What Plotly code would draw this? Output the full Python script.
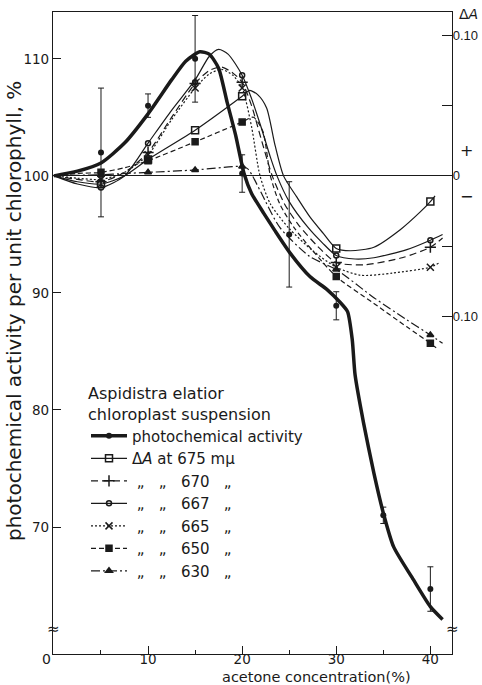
import plotly.graph_objects as go

# ---------------- data ----------------
# photochemical activity (% of control), measured points with error bars
act_conc = [5, 10, 15, 20, 25, 30, 35, 40]
act_val = [102.0, 106.0, 110.0, 100.2, 95.0, 88.9, 71.0, 64.7]
act_err = [5.5, 1.0, 3.7, 1.6, 4.5, 1.2, 0.7, 1.9]

# fitted (hand-drawn) curve of photochemical activity
act_curve_x = [0, 2.5, 5, 7.5, 10, 12.5, 14, 15.5, 16.5, 17.5, 18.4, 19.3, 20.2, 21.0, 22.3, 23.5,
               25.1, 27.2, 29.0, 30.4, 31.2, 31.7, 32.0, 32.9, 34.0, 35.0, 36.1, 38.2, 40.0, 41.3]
act_curve_y = [100, 100.4, 101.1, 102.8, 105.3, 108.2, 109.8, 110.6, 110.4, 109.2, 106.3, 103.5, 100.2, 98.5,
               96.8, 95.3, 93.4, 91.4, 90.3, 89.2, 88.4, 86.0, 83.0, 78.9, 74.6, 71.2, 68.3, 65.5, 63.2, 62.1]

# delta A measured points (same concentrations for every wavelength)
dA_conc = [5, 10, 15, 20, 30, 40]
dA_675 = [-0.0058, 0.0117, 0.0325, 0.0567, -0.0517, -0.0183]
dA_670 = [-0.0042, 0.0167, 0.0658, 0.0667, -0.0617, -0.0508]
dA_667 = [-0.0083, 0.0233, 0.0667, 0.0717, -0.0567, -0.0458]
dA_665 = [-0.0025, 0.0150, 0.0625, 0.0625, -0.0650, -0.0650]
dA_650 = [0.0025, 0.0108, 0.0242, 0.0383, -0.0717, -0.1192]
dA_630 = [0.0008, 0.0025, 0.0042, 0.0067, -0.0667, -0.1133]

# delta A fitted curves
c675_x = [0, 2.5, 5, 7.5, 10, 15, 20, 20.8, 21.7, 22.6, 23.5, 24.4, 25.8, 27.2, 28.6, 30, 31.5, 34, 36.8, 38.9, 40, 40.5]
c675_y = [0, -0.0042, -0.0058, 0, 0.0117, 0.0325, 0.0567, 0.0608, 0.0575, 0.0483, 0.0217, 0, -0.0150, -0.0292,
          -0.0408, -0.0517, -0.0533, -0.0508, -0.0383, -0.0258, -0.0183, -0.0142]
c670_x = [0, 2.5, 5, 7.5, 10, 12.5, 15, 16.5, 17.8, 19, 20, 21, 22, 23.2, 24.5, 26, 28, 30, 33, 37, 40, 41.3]
c670_y = [0, -0.0025, -0.0042, 0.0025, 0.0167, 0.0417, 0.0658, 0.0750, 0.0775, 0.0733, 0.0667, 0.0500, 0.0267, 0,
          -0.0200, -0.0350, -0.0500, -0.0617, -0.0633, -0.0583, -0.0508, -0.0442]
c667_x = [0, 2.5, 5, 7.5, 10, 12.5, 15, 16.5, 17.5, 18.5, 20, 21, 22, 23, 23.7, 25, 27, 28.5, 30, 32, 34, 37.5, 40, 41.3]
c667_y = [0, -0.0058, -0.0083, 0, 0.0233, 0.0467, 0.0683, 0.0850, 0.0900, 0.0867, 0.0717, 0.0550, 0.0350, 0.0133, 0,
          -0.0183, -0.0367, -0.0475, -0.0567, -0.0592, -0.0583, -0.0525, -0.0458, -0.0417]
c665_x = [0, 2.5, 5, 7.5, 10, 12.5, 15, 16.5, 17.8, 19, 20, 21, 21.9, 23, 25, 27.5, 30, 32.6, 36, 40, 41]
c665_y = [0, -0.0017, -0.0025, 0.0025, 0.0150, 0.0400, 0.0625, 0.0725, 0.0758, 0.0717, 0.0625, 0.0350, 0, -0.0200,
          -0.0375, -0.0533, -0.0650, -0.0708, -0.0692, -0.0650, -0.0617]
c650_x = [0, 2.5, 5, 7.5, 10, 15, 20, 21.2, 22.2, 23.0, 24, 25.5, 27.5, 30, 34, 37.5, 40, 40.8]
c650_y = [0, 0.0017, 0.0025, 0.0058, 0.0108, 0.0242, 0.0383, 0.0417, 0.0317, 0, -0.0200, -0.0367, -0.0533, -0.0717,
          -0.0908, -0.1075, -0.1192, -0.1233]
c630_x = [0, 2.5, 5, 7.5, 10, 15, 20, 20.6, 21.1, 22, 24, 27.2, 30, 34, 37.5, 40, 41.3]
c630_y = [0, 0.0004, 0.0008, 0.0017, 0.0025, 0.0042, 0.0067, 0.0050, 0, -0.0117, -0.0367, -0.0575, -0.0667, -0.0867,
          -0.1025, -0.1133, -0.1192]

y_left_ticks = [70, 80, 90, 100, 110]
y_right_ticks = [0.10, 0.05, 0, -0.05, -0.10]
y_right_text = ["0.10", "", "0", "", "0.10"]
x_ticks = [10, 20, 30, 40]
x_minor = [5, 15, 25, 35]

legend_names = [
    "photochemical activity",
    "Δ<i>A</i> at 675 mμ",
    "\u00a0„\u00a0\u00a0\u00a0„\u00a0\u00a0\u00a0670\u00a0\u00a0\u00a0„",
    "\u00a0„\u00a0\u00a0\u00a0„\u00a0\u00a0\u00a0667\u00a0\u00a0\u00a0„",
    "\u00a0„\u00a0\u00a0\u00a0„\u00a0\u00a0\u00a0665\u00a0\u00a0\u00a0„",
    "\u00a0„\u00a0\u00a0\u00a0„\u00a0\u00a0\u00a0650\u00a0\u00a0\u00a0„",
    "\u00a0„\u00a0\u00a0\u00a0„\u00a0\u00a0\u00a0630\u00a0\u00a0\u00a0„",
]

# ---------------- figure ----------------
INK = "#1a1a1a"
FONT = "DejaVu Sans"
Y_LO, Y_HI = 59.15, 114.0

fig = go.Figure()

# delta A series: (curve x, curve y, points y, dash, marker symbol, marker size, line width)
series = [
    (c675_x, c675_y, dA_675, "solid", "square-open", 7, 1.2),
    (c670_x, c670_y, dA_670, "7px,4px", "cross-thin", 8, 1.2),
    (c667_x, c667_y, dA_667, "solid", "circle-open", 5, 1.2),
    (c665_x, c665_y, dA_665, "2px,2px", "x-thin", 7, 1.2),
    (c650_x, c650_y, dA_650, "5px,3px", "square", 6, 1.2),
    (c630_x, c630_y, dA_630, "9px,3px,2px,3px", "triangle-up", 6, 1.2),
]

for (cx, cy, py, dash, sym, msz, lw) in series:
    fig.add_trace(go.Scatter(x=cx, y=cy, yaxis="y2", mode="lines", showlegend=False,
                             line=dict(color=INK, width=lw, dash=dash, shape="spline", smoothing=0.7),
                             hoverinfo="skip"))
    fig.add_trace(go.Scatter(x=dA_conc, y=py, yaxis="y2", mode="markers", showlegend=False,
                             marker=dict(symbol=sym, size=msz, color=INK,
                                         line=dict(color=INK, width=1.5))))

# photochemical activity curve and points
fig.add_trace(go.Scatter(x=act_curve_x, y=act_curve_y, mode="lines", showlegend=False,
                         line=dict(color=INK, width=3.5, shape="spline", smoothing=0.6), hoverinfo="skip"))
fig.add_trace(go.Scatter(x=act_conc, y=act_val, mode="markers", showlegend=False,
                         marker=dict(symbol="circle", size=6, color=INK),
                         error_y=dict(type="data", array=act_err, visible=True, color=INK,
                                      thickness=1, width=3)))

# legend entries
fig.add_trace(go.Scatter(x=[None], y=[None], mode="lines+markers", name=legend_names[0],
                         line=dict(color=INK, width=3.5), marker=dict(symbol="circle", size=6, color=INK)))
for name, (cx, cy, py, dash, sym, msz, lw) in zip(legend_names[1:], series):
    fig.add_trace(go.Scatter(x=[None], y=[None], yaxis="y2", mode="lines+markers", name=name,
                             line=dict(color=INK, width=lw, dash=dash),
                             marker=dict(symbol=sym, size=msz, color=INK, line=dict(color=INK, width=1.5))))

L, R, T, B = 53, 30, 12, 31
W, H = 482, 685
pw, ph = W - L - R, H - T - B


def px(x):
    return (x - L) / pw


def py_(y):
    return (H - B - y) / ph


fig.update_layout(
    template="none",
    width=W, height=H,
    margin=dict(l=L, r=R, t=T, b=B, pad=0, autoexpand=False),
    paper_bgcolor="white", plot_bgcolor="white",
    font=dict(family=FONT, color=INK, size=14),
    showlegend=True,
    legend=dict(
        x=px(86), y=py_(378), xanchor="left", yanchor="top",
        bgcolor="rgba(0,0,0,0)", borderwidth=0,
        font=dict(family=FONT, size=15, color=INK),
        title=dict(text="Aspidistra elatior<br>chloroplast suspension",
                   font=dict(family=FONT, size=16, color=INK)),
        tracegroupgap=0, itemwidth=36,
    ),
    xaxis=dict(
        range=[-0.1, 42.3], showgrid=False, zeroline=False, automargin=False,
        showline=True, linecolor=INK, linewidth=1.2, mirror=True,
        tickmode="array", tickvals=x_ticks, ticks="inside", ticklen=8, tickwidth=1.2, tickcolor=INK,
        tickfont=dict(size=13.5, family=FONT), ticklabelstandoff=-7,
        minor=dict(tickmode="array", tickvals=x_minor, ticks="inside", ticklen=4, tickwidth=1, tickcolor=INK),
    ),
    yaxis=dict(
        range=[Y_LO, Y_HI], showgrid=False, zeroline=False, automargin=False,
        showline=True, linecolor=INK, linewidth=1.2,
        tickmode="array", tickvals=y_left_ticks, ticktext=[str(v) for v in y_left_ticks],
        ticks="inside", ticklen=8, tickwidth=1.2, tickcolor=INK,
        tickfont=dict(size=13.5, family=FONT),
    ),
    yaxis2=dict(
        overlaying="y", side="right", automargin=False,
        range=[(Y_LO - 100) / 120, (Y_HI - 100) / 120], showgrid=False,
        zeroline=True, zerolinecolor=INK, zerolinewidth=1,
        showline=True, linecolor=INK, linewidth=1.2,
        tickmode="array", tickvals=y_right_ticks, ticktext=y_right_text,
        ticks="inside", ticklen=10, tickwidth=1.2, tickcolor=INK,
        tickfont=dict(size=13, family="Liberation Sans"), ticklabelstandoff=-3,
    ),
)

ann = [
    dict(text="0", x=px(46), y=py_(659), font=dict(size=14)),
    dict(text="Δ<i>A</i>", x=px(468), y=py_(14), font=dict(size=14)),
    dict(text="+", x=px(466), y=py_(151), font=dict(size=16)),
    dict(text="−", x=px(466), y=py_(197), font=dict(size=16)),
    dict(text="≈", x=px(53), y=py_(629), font=dict(size=15)),
    dict(text="≈", x=px(452), y=py_(629), font=dict(size=15)),
    dict(text="acetone concentration(%)", x=px(316), y=py_(677), font=dict(size=14.5)),
    dict(text="photochemical activity per unit chlorophyll, %", x=px(14), y=py_(311),
         font=dict(size=20), textangle=-90),
]
for a in ann:
    fig.add_annotation(xref="paper", yref="paper", showarrow=False,
                       xanchor="center", yanchor="middle", **a)

fig.write_html("out.html")
